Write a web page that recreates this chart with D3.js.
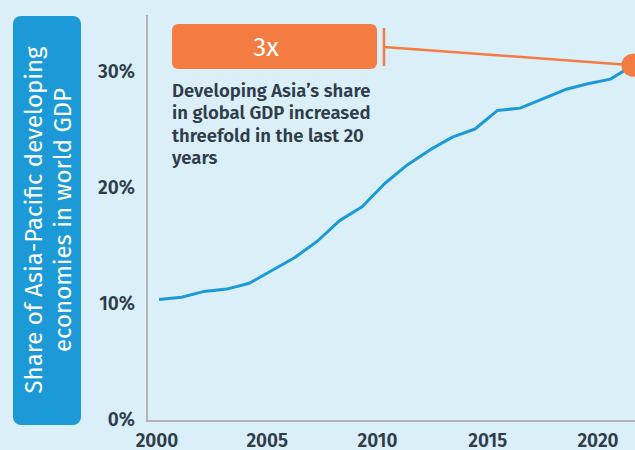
<!DOCTYPE html>
<html>
<head>
<meta charset="utf-8">
<script src="https://cdn.jsdelivr.net/npm/d3@7"></script>
<style>
	html, body { margin: 0; padding: 0; background: #daeff8; }
	svg { display: block; font-family: "Fira Sans", "Noto Sans", sans-serif; }
</style>
</head>
<body>
<div id="chart"></div>
<script>
'use strict';
(function() {
	//Data
	var years = [2000,2001,2002,2003,2004,2005,2006,2007,2008,2009,2010,
		2011,2012,2013,2014,2015,2016,2017,2018,2019,2020,2021];
	var shares = [10.3,10.5,11.0,11.2,11.7,12.8,13.9,15.3,17.1,18.3,20.3,
		21.9,23.2,24.3,25.0,26.6,26.8,27.6,28.4,28.9,29.3,30.5];
	var yTicks = [0,10,20,30];
	var xTicks = [2000,2005,2010,2015,2020];
	var axisTitle = ["Share of Asia-Pacific developing", "economies in world GDP"];
	var badgeText = "3x";
	var noteLines = ["Developing Asia\u2019s share", "in global GDP increased",
		"threefold in the last 20", "years"];

	var width = 635, height = 450;
	var BLUE = "#1b9ad7", ORANGE = "#f47c42", INK = "#2f3d4a", AXIS = "#b4b4b4";

	var svg = d3.select('#chart').append('svg')
		.attr('width', width)
		.attr('height', height);

	//Scales
	var x = d3.scaleLinear().domain([2000, 2021]).range([159, 633]);
	//tick labels sit slightly left of the data points in the original
	var xLabel = d3.scaleLinear().domain([2000, 2020]).range([157, 598]);
	var y = d3.scaleLinear().domain([0, 30]).range([419, 71]);

	/***************************************
	 * Axis title box
	 ***************************************/
	svg.append('rect')
		.attr('x', 13).attr('y', 16)
		.attr('width', 68).attr('height', 409)
		.attr('rx', 8)
		.attr('fill', BLUE);
	var title = svg.append('text')
		.attr('transform', 'translate(46,220) rotate(-90)')
		.attr('text-anchor', 'middle')
		.attr('fill', '#fff')
		.style('font-size', '24px');
	title.selectAll('tspan')
		.data(axisTitle)
		.enter().append('tspan')
			.attr('x', 0)
			.attr('dy', function(d, i) { return i == 0 ? -4 : 29; })
			.text(function(d) { return d; });

	/***************************************
	 * Axes
	 ***************************************/
	svg.append('line')
		.attr('x1', 147).attr('x2', 147)
		.attr('y1', 15).attr('y2', 421)
		.attr('stroke', AXIS).attr('stroke-width', 2);
	svg.append('line')
		.attr('x1', 146).attr('x2', width)
		.attr('y1', 421).attr('y2', 421)
		.attr('stroke', AXIS).attr('stroke-width', 2);

	svg.append('g').selectAll('text')
		.data(yTicks)
		.enter().append('text')
			.attr('x', 135)
			.attr('y', function(d) { return y(d) + 7; })
			.attr('text-anchor', 'end')
			.attr('fill', INK)
			.style('font-size', '19px')
			.style('font-weight', 600)
			.text(function(d) { return d + '%'; });

	svg.append('g').selectAll('text')
		.data(xTicks)
		.enter().append('text')
			.attr('x', function(d) { return xLabel(d); })
			.attr('y', 447)
			.attr('text-anchor', 'middle')
			.attr('fill', INK)
			.style('font-size', '19px')
			.style('font-weight', 600)
			.text(function(d) { return d; });

	/***************************************
	 * Line
	 ***************************************/
	var line = d3.line()
		.x(function(d, i) { return x(years[i]); })
		.y(function(d) { return y(d); });
	svg.append('path')
		.datum(shares)
		.attr('d', line)
		.attr('fill', 'none')
		.attr('stroke', BLUE)
		.attr('stroke-width', 3)
		.attr('stroke-linejoin', 'round');

	/***************************************
	 * Annotation
	 ***************************************/
	var last = years.length - 1;
	svg.append('line')
		.attr('x1', 384).attr('y1', 47)
		.attr('x2', x(years[last])).attr('y2', y(shares[last]))
		.attr('stroke', ORANGE).attr('stroke-width', 2.5);
	svg.append('line')
		.attr('x1', 384).attr('x2', 384)
		.attr('y1', 28).attr('y2', 66)
		.attr('stroke', ORANGE).attr('stroke-width', 2.5);
	svg.append('circle')
		.attr('cx', x(years[last])).attr('cy', y(shares[last]))
		.attr('r', 11.5)
		.attr('fill', ORANGE);

	svg.append('rect')
		.attr('x', 172).attr('y', 24)
		.attr('width', 205).attr('height', 45)
		.attr('rx', 6)
		.attr('fill', ORANGE);
	svg.append('text')
		.attr('x', 266).attr('y', 56)
		.attr('text-anchor', 'middle')
		.attr('fill', '#fff')
		.style('font-size', '26px')
		.text(badgeText);

	svg.append('g').selectAll('text')
		.data(noteLines)
		.enter().append('text')
			.attr('x', 172)
			.attr('y', function(d, i) { return 97 + i * 22.3; })
			.attr('fill', INK)
			.style('font-size', '18.5px')
			.style('font-weight', 600)
			.text(function(d) { return d; });
})();
</script>
</body>
</html>
